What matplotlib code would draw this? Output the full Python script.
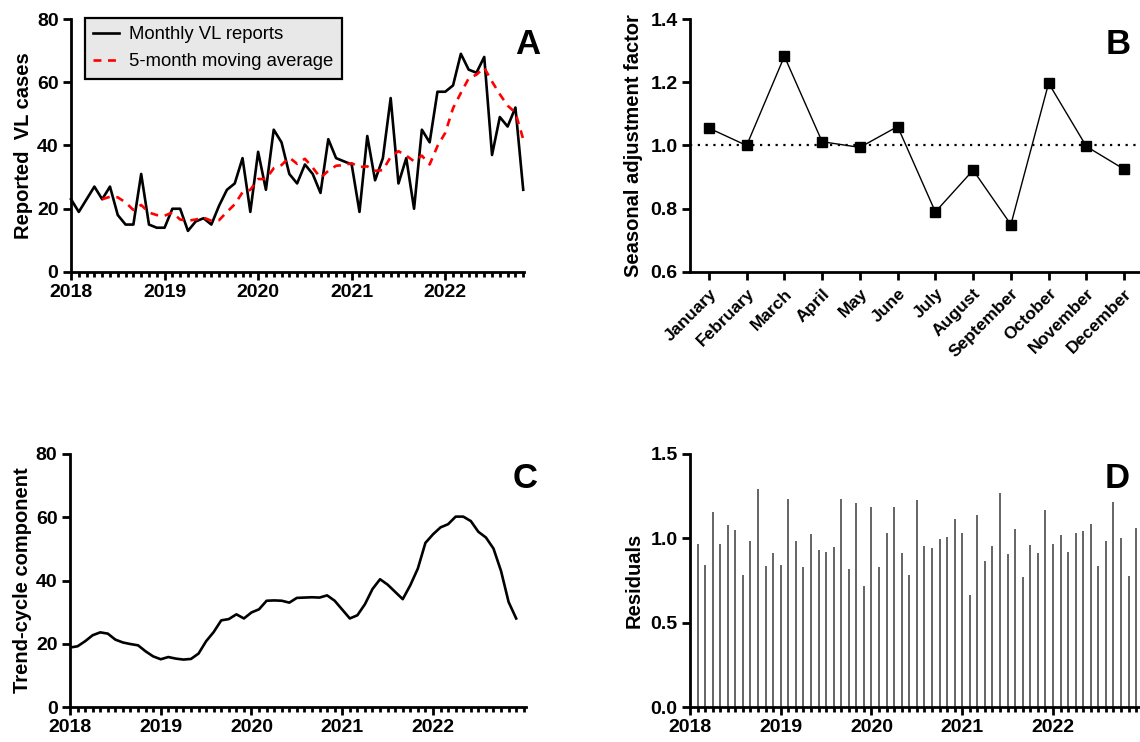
import matplotlib
matplotlib.use("Agg")
import matplotlib.pyplot as plt
from matplotlib.ticker import MultipleLocator, FixedLocator
import numpy as np

plt.rcParams['font.family'] = ['Liberation Sans', 'DejaVu Sans']

# ---------------- data ----------------
years = [2018, 2019, 2020, 2021, 2022]
year_labels = ['2018', '2019', '2020', '2021', '2022']

# Panel A: monthly VL reports, Jan 2018 - Nov 2022
monthly_cases = [23, 19, 23, 27, 23, 27, 18, 15, 15, 31, 15, 14,
                 14, 20, 20, 13, 16, 17, 15, 21, 26, 28, 36, 19,
                 38, 26, 45, 41, 31, 28, 34, 31, 25, 42, 36, 35,
                 34, 19, 43, 29, 36, 55, 28, 36, 20, 45, 41, 57,
                 57, 59, 69, 64, 63, 68, 37, 49, 46, 52, 26]
# 5-month moving average (starts May 2018)
moving_avg = [23.0, 23.8, 23.6, 22.0, 19.6, 21.2, 18.8, 18.0,
              17.8, 18.8, 16.6, 16.2, 16.6, 17.2, 16.2, 16.4, 19.0, 21.4, 25.2, 26.0,
              29.4, 29.4, 32.8, 33.8, 36.2, 34.2, 35.8, 33.0, 29.8, 32.0, 33.6, 33.8,
              34.4, 33.2, 33.4, 32.0, 32.2, 36.4, 38.2, 36.8, 35.0, 36.8, 34.0, 39.8,
              44.0, 51.8, 56.6, 61.2, 62.4, 64.6, 60.2, 56.2, 52.6, 50.4, 42.0]
ma_start = 4

# Panel B: seasonal adjustment factors
months = ['January', 'February', 'March', 'April', 'May', 'June', 'July',
          'August', 'September', 'October', 'November', 'December']
seasonal = [1.055, 1.000, 1.282, 1.012, 0.994, 1.060, 0.790,
            0.922, 0.750, 1.197, 0.997, 0.925]

# Panel C: trend-cycle component, Jan 2018 - Dec 2022
trend = [18.8, 19.2, 20.8, 22.7, 23.6, 23.2, 21.3, 20.4, 19.9, 19.5, 17.6, 16.0,
         15.1, 15.8, 15.3, 15.0, 15.2, 16.9, 20.8, 23.7, 27.4, 27.8, 29.3, 28.0,
         29.9, 30.9, 33.6, 33.7, 33.6, 33.0, 34.5, 34.6, 34.7, 34.6, 35.3, 33.6,
         30.8, 28.0, 29.0, 32.5, 37.3, 40.4, 38.7, 36.4, 34.1, 38.5, 43.8, 51.9,
         54.6, 56.8, 57.8, 60.2, 60.2, 58.8, 55.4, 53.6, 50.1, 43.0, 33.2, 28.0]

# Panel D: residuals, Feb 2018 - Dec 2022
residuals = [0.964, 0.844, 1.156, 0.964, 1.077, 1.047, 0.781, 0.984, 1.294, 0.838, 0.913,
             0.840, 1.231, 0.984, 0.830, 1.024, 0.933, 0.917, 0.947, 1.235, 0.820, 1.211, 0.717,
             1.184, 0.828, 1.030, 1.184, 0.913, 0.781, 1.229, 0.953, 0.943, 0.994, 1.010, 1.113,
             1.030, 0.666, 1.136, 0.864, 0.957, 1.269, 0.905, 1.055, 0.771, 0.962, 0.913, 1.170,
             0.968, 1.022, 0.919, 1.034, 1.042, 1.085, 0.838, 0.982, 1.215, 1.000, 0.779, 1.063]
resid_start = 1

# ---------------- figure ----------------
W, H = 1140, 742
fig = plt.figure(figsize=(W / 100, H / 100), dpi=100)

def ax_px(x0, y_top, x1, y_bot):
    return fig.add_axes([x0 / W, 1 - y_bot / H, (x1 - x0) / W, (y_bot - y_top) / H])

SPW = 2.0
TICKFS = 14
LABFS = 14.5
LETFS = 25

def style(ax):
    for s in ['top', 'right']:
        ax.spines[s].set_visible(False)
    for s in ['left', 'bottom']:
        ax.spines[s].set_linewidth(SPW)
    ax.tick_params(which='major', direction='out', length=6, width=SPW, labelsize=TICKFS, pad=3)
    ax.tick_params(which='minor', direction='out', length=3.5, width=SPW)
    for lab in ax.get_xticklabels() + ax.get_yticklabels():
        lab.set_fontweight('bold')

def time_axis(ax, xmax):
    ax.set_xlim(0, xmax)
    ax.xaxis.set_major_locator(FixedLocator([12 * (y - 2018) for y in years]))
    ax.set_xticklabels(year_labels)
    ax.xaxis.set_minor_locator(MultipleLocator(1))

# ---- Panel A ----
axA = ax_px(71, 19, 524, 272)
xA = np.arange(len(monthly_cases))
axA.plot(xA, monthly_cases, color='black', lw=1.9, label='Monthly VL reports', clip_on=False)
axA.plot(np.arange(ma_start, ma_start + len(moving_avg)), moving_avg, color='red',
         lw=1.9, ls=(0, (3, 2.5)), label='5-month moving average', clip_on=False)
axA.set_ylim(0, 80)
axA.yaxis.set_major_locator(MultipleLocator(20))
time_axis(axA, 58.1)
axA.set_ylabel('Reported  VL cases', fontsize=LABFS, fontweight='bold', labelpad=3)
leg = axA.legend(loc='upper left', bbox_to_anchor=(85 / W, 1 - 18 / H),
                 bbox_transform=fig.transFigure, borderaxespad=0,
                 frameon=True, fancybox=False,
                 fontsize=13.3, handlelength=1.4, borderpad=0.45, labelspacing=0.55,
                 handletextpad=0.55)
leg.get_frame().set_facecolor('#e8e8e8')
leg.get_frame().set_edgecolor('black')
leg.get_frame().set_linewidth(1.6)
leg.get_frame().set_alpha(1)
style(axA)
fig.text(528 / W, 1 - 45 / H, 'A', fontsize=LETFS, fontweight='bold', ha='center', va='center')

# ---- Panel B ----
axB = ax_px(690, 19, 1143, 272)
xB = np.arange(len(months))
axB.axhline(1.0, color='black', lw=1.6, ls=(0, (1, 2.5)))
axB.plot(xB, seasonal, color='black', lw=1.0, marker='s', markersize=7.5, clip_on=False)
axB.set_xlim(-0.5, 11.5)
axB.set_ylim(0.6, 1.4)
axB.yaxis.set_major_locator(MultipleLocator(0.2))
axB.set_xticks(xB)
axB.set_xticklabels(months, rotation=45, ha='right', rotation_mode='anchor')
axB.set_ylabel('Seasonal adjustment factor', fontsize=LABFS, fontweight='bold', labelpad=5)
style(axB)
axB.tick_params(axis='x', labelsize=12.5, pad=4)
for lab in axB.get_xticklabels():
    lab.set_fontweight('bold')
fig.text(1118 / W, 1 - 45 / H, 'B', fontsize=LETFS, fontweight='bold', ha='center', va='center')

# ---- Panel C ----
axC = ax_px(70, 454, 526, 707)
axC.plot(np.arange(len(trend)), trend, color='black', lw=1.9)
axC.set_ylim(0, 80)
axC.yaxis.set_major_locator(MultipleLocator(20))
time_axis(axC, 60.3)
axC.set_ylabel('Trend-cycle component', fontsize=LABFS, fontweight='bold', labelpad=3)
style(axC)
fig.text(525 / W, 1 - 478 / H, 'C', fontsize=LETFS, fontweight='bold', ha='center', va='center')

# ---- Panel D ----
axD = ax_px(690, 454, 1146, 707)
xD = np.arange(resid_start, resid_start + len(residuals))
axD.vlines(xD, 0, residuals, color='#3a3a3a', lw=1.1)
axD.set_ylim(0, 1.5)
axD.yaxis.set_major_locator(MultipleLocator(0.5))
time_axis(axD, 60.3)
axD.set_ylabel('Residuals', fontsize=LABFS, fontweight='bold', labelpad=5)
style(axD)
fig.text(1117 / W, 1 - 478 / H, 'D', fontsize=LETFS, fontweight='bold', ha='center', va='center')

fig.savefig('out.png', dpi=100)
